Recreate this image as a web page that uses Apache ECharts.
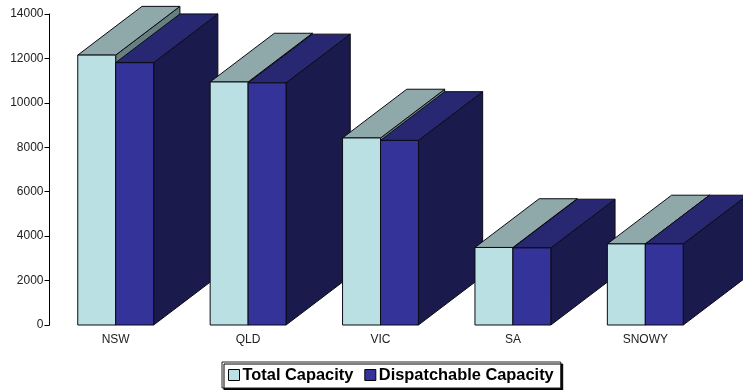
<!DOCTYPE html>
<html>
<head>
<meta charset="utf-8">
<style>html,body{margin:0;padding:0;background:#fff}#chart{width:743px;height:390px}</style>
<script src="https://cdn.jsdelivr.net/npm/echarts@6/dist/echarts.min.js"></script>
</head>
<body>
<div id="chart"></div>
<script>
// Generation capacity by region, in MW
var regions = ['NSW', 'QLD', 'VIC', 'SA', 'SNOWY'];
var totalCapacity = [12150, 10940, 8420, 3490, 3650];
var dispatchableCapacity = [11810, 10900, 8310, 3470, 3650];
var yTicks = { min: 0, max: 14000, step: 2000 };

var palette = {
  total: { front: '#BAE0E4', top: '#8FA8A9', side: '#667F7F' },
  dispatch: { front: '#333399', top: '#282872', side: '#1A1A4C' }
};

// Oblique projection of the block depth, as a share of the category band
var BAR_SHARE = 0.2866, DEPTH_X = 0.485, DEPTH_Y = 0.368;

function blockRenderer(colors, seriesOrder) {
  return function (params, api) {
    var idx = api.value(0);
    var base = api.coord([idx, 0]);
    var top = api.coord([idx, api.value(1)]);
    var band = api.size([1, 0])[0];
    var w = band * BAR_SHARE;
    var dx = band * DEPTH_X, dy = band * DEPTH_Y;
    var x0 = base[0] + (seriesOrder === 0 ? -w : 0);
    var x1 = x0 + w;
    var yb = base[1], yt = top[1];
    var z = idx * 4 + seriesOrder * 2;
    var edge = { stroke: '#0b0b14', lineWidth: 1, lineJoin: 'miter' };
    function face(points, fill, z2) {
      return {
        type: 'polygon',
        z2: z2,
        shape: { points: points },
        style: Object.assign({ fill: fill }, edge)
      };
    }
    return {
      type: 'group',
      children: [
        face([[x1, yb], [x1 + dx, yb - dy], [x1 + dx, yt - dy], [x1, yt]], colors.side, z),
        face([[x0, yt], [x1, yt], [x1 + dx, yt - dy], [x0 + dx, yt - dy]], colors.top, z),
        face([[x0, yb], [x1, yb], [x1, yt], [x0, yt]], colors.front, z + 1)
      ]
    };
  };
}

function rows(values) {
  return values.map(function (v, i) { return [i, v]; });
}

var chart = echarts.init(document.getElementById('chart'), null, { renderer: 'canvas' });
chart.setOption({
  animation: false,
  backgroundColor: '#ffffff',
  textStyle: { fontFamily: '"Liberation Sans", Arial, sans-serif' },
  grid: { left: 49.5, top: 14, width: 662, height: 311, containLabel: false },
  xAxis: {
    type: 'category',
    data: regions,
    axisLine: { show: false },
    axisTick: { show: false },
    axisLabel: { color: '#222', fontSize: 12, margin: 9 }
  },
  yAxis: {
    type: 'value',
    min: yTicks.min,
    max: yTicks.max,
    interval: yTicks.step,
    splitLine: { show: false },
    axisLine: { show: true, lineStyle: { color: '#000', width: 1 } },
    axisTick: { show: true, length: 5, lineStyle: { color: '#000', width: 1 } },
    axisLabel: { color: '#222', fontSize: 12, margin: 6, formatter: function (v) { return String(v); } }
  },
  legend: {
    left: 222,
    top: 362,
    padding: [5, 7, 5, 6],
    itemGap: 11,
    itemWidth: 11,
    itemHeight: 11,
    selectedMode: false,
    backgroundColor: '#fff',
    borderColor: '#222',
    borderWidth: 1,
    shadowColor: '#000',
    shadowBlur: 0,
    shadowOffsetX: 2,
    shadowOffsetY: 2,
    textStyle: { color: '#000', fontSize: 16.4, fontWeight: 'bold', padding: [0, 0, 0, -2] },
    data: [
      { name: 'Total Capacity', icon: 'rect', itemStyle: { color: palette.total.front, borderColor: '#000', borderWidth: 1 } },
      { name: 'Dispatchable Capacity', icon: 'rect', itemStyle: { color: palette.dispatch.front, borderColor: '#000', borderWidth: 1 } }
    ]
  },
  series: [
    {
      name: 'Total Capacity',
      type: 'custom',
      data: rows(totalCapacity),
      encode: { x: 0, y: 1 },
      itemStyle: { color: palette.total.front },
      renderItem: blockRenderer(palette.total, 0)
    },
    {
      name: 'Dispatchable Capacity',
      type: 'custom',
      data: rows(dispatchableCapacity),
      encode: { x: 0, y: 1 },
      itemStyle: { color: palette.dispatch.front },
      renderItem: blockRenderer(palette.dispatch, 1)
    }
  ]
});
</script>
</body>
</html>
